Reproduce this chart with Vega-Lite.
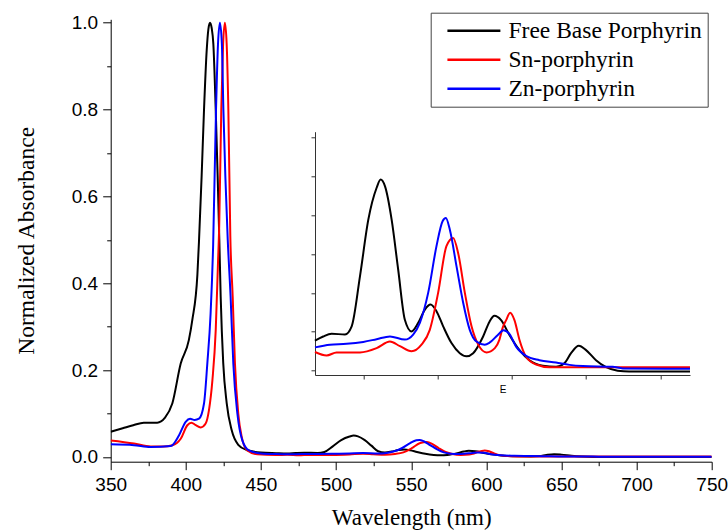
{
  "$schema": "https://vega.github.io/schema/vega-lite/v6.json",
  "width": 601,
  "height": 442.4,
  "autosize": {"type": "none"},
  "padding": {"left": 110.7, "top": 19.3, "right": 16.3, "bottom": 68.3},
  "background": "white",
  "config": {"view": {"stroke": null}, "axis": {"grid": false}},
  "datasets": {
    "spectra": [
      {"s": "Free Base Porphyrin", "w": 350, "a": 0.058},
      {"s": "Free Base Porphyrin", "w": 358, "a": 0.066},
      {"s": "Free Base Porphyrin", "w": 365, "a": 0.073},
      {"s": "Free Base Porphyrin", "w": 372, "a": 0.079},
      {"s": "Free Base Porphyrin", "w": 381, "a": 0.079},
      {"s": "Free Base Porphyrin", "w": 386, "a": 0.09},
      {"s": "Free Base Porphyrin", "w": 391, "a": 0.123},
      {"s": "Free Base Porphyrin", "w": 396.6, "a": 0.215},
      {"s": "Free Base Porphyrin", "w": 402, "a": 0.269},
      {"s": "Free Base Porphyrin", "w": 404.3, "a": 0.315},
      {"s": "Free Base Porphyrin", "w": 407.7, "a": 0.42},
      {"s": "Free Base Porphyrin", "w": 408.8, "a": 0.5},
      {"s": "Free Base Porphyrin", "w": 410.5, "a": 0.645},
      {"s": "Free Base Porphyrin", "w": 412.1, "a": 0.799},
      {"s": "Free Base Porphyrin", "w": 413.9, "a": 0.937},
      {"s": "Free Base Porphyrin", "w": 415, "a": 0.985},
      {"s": "Free Base Porphyrin", "w": 416.1, "a": 1.0},
      {"s": "Free Base Porphyrin", "w": 417.2, "a": 0.988},
      {"s": "Free Base Porphyrin", "w": 418.3, "a": 0.952},
      {"s": "Free Base Porphyrin", "w": 419.9, "a": 0.799},
      {"s": "Free Base Porphyrin", "w": 421.2, "a": 0.645},
      {"s": "Free Base Porphyrin", "w": 422.3, "a": 0.5},
      {"s": "Free Base Porphyrin", "w": 423.2, "a": 0.369},
      {"s": "Free Base Porphyrin", "w": 424.9, "a": 0.216},
      {"s": "Free Base Porphyrin", "w": 427.2, "a": 0.124},
      {"s": "Free Base Porphyrin", "w": 430.5, "a": 0.062},
      {"s": "Free Base Porphyrin", "w": 434.9, "a": 0.028},
      {"s": "Free Base Porphyrin", "w": 440.5, "a": 0.016},
      {"s": "Free Base Porphyrin", "w": 450, "a": 0.01},
      {"s": "Free Base Porphyrin", "w": 460, "a": 0.0085},
      {"s": "Free Base Porphyrin", "w": 467.5, "a": 0.0077},
      {"s": "Free Base Porphyrin", "w": 473, "a": 0.0088},
      {"s": "Free Base Porphyrin", "w": 478.7, "a": 0.0095},
      {"s": "Free Base Porphyrin", "w": 487.7, "a": 0.0093},
      {"s": "Free Base Porphyrin", "w": 492.2, "a": 0.0114},
      {"s": "Free Base Porphyrin", "w": 497.8, "a": 0.0243},
      {"s": "Free Base Porphyrin", "w": 503.4, "a": 0.0388},
      {"s": "Free Base Porphyrin", "w": 509, "a": 0.047},
      {"s": "Free Base Porphyrin", "w": 511.7, "a": 0.0491},
      {"s": "Free Base Porphyrin", "w": 514.6, "a": 0.0474},
      {"s": "Free Base Porphyrin", "w": 519.1, "a": 0.0388},
      {"s": "Free Base Porphyrin", "w": 523.5, "a": 0.026},
      {"s": "Free Base Porphyrin", "w": 528, "a": 0.0131},
      {"s": "Free Base Porphyrin", "w": 532.5, "a": 0.0101},
      {"s": "Free Base Porphyrin", "w": 537, "a": 0.0123},
      {"s": "Free Base Porphyrin", "w": 541.5, "a": 0.0157},
      {"s": "Free Base Porphyrin", "w": 545.3, "a": 0.017},
      {"s": "Free Base Porphyrin", "w": 549.3, "a": 0.0153},
      {"s": "Free Base Porphyrin", "w": 553.8, "a": 0.0114},
      {"s": "Free Base Porphyrin", "w": 559.4, "a": 0.0071},
      {"s": "Free Base Porphyrin", "w": 565, "a": 0.0045},
      {"s": "Free Base Porphyrin", "w": 569.5, "a": 0.0037},
      {"s": "Free Base Porphyrin", "w": 574, "a": 0.0045},
      {"s": "Free Base Porphyrin", "w": 580.7, "a": 0.0088},
      {"s": "Free Base Porphyrin", "w": 585, "a": 0.0126},
      {"s": "Free Base Porphyrin", "w": 588.3, "a": 0.0141},
      {"s": "Free Base Porphyrin", "w": 592.8, "a": 0.013},
      {"s": "Free Base Porphyrin", "w": 598.4, "a": 0.0092},
      {"s": "Free Base Porphyrin", "w": 605.2, "a": 0.0053},
      {"s": "Free Base Porphyrin", "w": 611.9, "a": 0.0027},
      {"s": "Free Base Porphyrin", "w": 620.9, "a": 0.0013},
      {"s": "Free Base Porphyrin", "w": 629.8, "a": 0.001},
      {"s": "Free Base Porphyrin", "w": 635.4, "a": 0.0019},
      {"s": "Free Base Porphyrin", "w": 639.9, "a": 0.0045},
      {"s": "Free Base Porphyrin", "w": 645.1, "a": 0.0064},
      {"s": "Free Base Porphyrin", "w": 650, "a": 0.0053},
      {"s": "Free Base Porphyrin", "w": 656.7, "a": 0.0027},
      {"s": "Free Base Porphyrin", "w": 663.5, "a": 0.0009},
      {"s": "Free Base Porphyrin", "w": 671.3, "a": 0.0},
      {"s": "Free Base Porphyrin", "w": 679, "a": -0.0002},
      {"s": "Free Base Porphyrin", "w": 700, "a": -0.0002},
      {"s": "Free Base Porphyrin", "w": 720, "a": -0.0002},
      {"s": "Free Base Porphyrin", "w": 750, "a": -0.0001},

      {"s": "Sn-porphyrin", "w": 350, "a": 0.038},
      {"s": "Sn-porphyrin", "w": 365.5, "a": 0.031},
      {"s": "Sn-porphyrin", "w": 376.6, "a": 0.024},
      {"s": "Sn-porphyrin", "w": 385, "a": 0.024},
      {"s": "Sn-porphyrin", "w": 391, "a": 0.027},
      {"s": "Sn-porphyrin", "w": 396.6, "a": 0.042},
      {"s": "Sn-porphyrin", "w": 401, "a": 0.073},
      {"s": "Sn-porphyrin", "w": 403.7, "a": 0.079},
      {"s": "Sn-porphyrin", "w": 406.6, "a": 0.073},
      {"s": "Sn-porphyrin", "w": 409.9, "a": 0.068},
      {"s": "Sn-porphyrin", "w": 413.2, "a": 0.077},
      {"s": "Sn-porphyrin", "w": 415.4, "a": 0.108},
      {"s": "Sn-porphyrin", "w": 417.7, "a": 0.177},
      {"s": "Sn-porphyrin", "w": 419.9, "a": 0.292},
      {"s": "Sn-porphyrin", "w": 421.4, "a": 0.446},
      {"s": "Sn-porphyrin", "w": 422.2, "a": 0.53},
      {"s": "Sn-porphyrin", "w": 423.6, "a": 0.8},
      {"s": "Sn-porphyrin", "w": 424.8, "a": 0.95},
      {"s": "Sn-porphyrin", "w": 426, "a": 1.0},
      {"s": "Sn-porphyrin", "w": 427.2, "a": 0.95},
      {"s": "Sn-porphyrin", "w": 428.3, "a": 0.8},
      {"s": "Sn-porphyrin", "w": 429.6, "a": 0.51},
      {"s": "Sn-porphyrin", "w": 431.2, "a": 0.369},
      {"s": "Sn-porphyrin", "w": 432.7, "a": 0.215},
      {"s": "Sn-porphyrin", "w": 434.9, "a": 0.1},
      {"s": "Sn-porphyrin", "w": 437.2, "a": 0.046},
      {"s": "Sn-porphyrin", "w": 440.9, "a": 0.015},
      {"s": "Sn-porphyrin", "w": 447.6, "a": 0.006},
      {"s": "Sn-porphyrin", "w": 460, "a": 0.0045},
      {"s": "Sn-porphyrin", "w": 467.5, "a": 0.0048},
      {"s": "Sn-porphyrin", "w": 475.3, "a": 0.0039},
      {"s": "Sn-porphyrin", "w": 482, "a": 0.0047},
      {"s": "Sn-porphyrin", "w": 497.8, "a": 0.0047},
      {"s": "Sn-porphyrin", "w": 509, "a": 0.0058},
      {"s": "Sn-porphyrin", "w": 518, "a": 0.0075},
      {"s": "Sn-porphyrin", "w": 524.7, "a": 0.0063},
      {"s": "Sn-porphyrin", "w": 532.5, "a": 0.005},
      {"s": "Sn-porphyrin", "w": 539.2, "a": 0.0067},
      {"s": "Sn-porphyrin", "w": 544.8, "a": 0.0105},
      {"s": "Sn-porphyrin", "w": 550.4, "a": 0.02},
      {"s": "Sn-porphyrin", "w": 556, "a": 0.032},
      {"s": "Sn-porphyrin", "w": 560.5, "a": 0.0341},
      {"s": "Sn-porphyrin", "w": 563.9, "a": 0.0302},
      {"s": "Sn-porphyrin", "w": 568.4, "a": 0.02},
      {"s": "Sn-porphyrin", "w": 572.9, "a": 0.0114},
      {"s": "Sn-porphyrin", "w": 577.4, "a": 0.0067},
      {"s": "Sn-porphyrin", "w": 583, "a": 0.0047},
      {"s": "Sn-porphyrin", "w": 588.6, "a": 0.0058},
      {"s": "Sn-porphyrin", "w": 591.7, "a": 0.008},
      {"s": "Sn-porphyrin", "w": 594, "a": 0.0112},
      {"s": "Sn-porphyrin", "w": 596.2, "a": 0.013},
      {"s": "Sn-porphyrin", "w": 598.9, "a": 0.0149},
      {"s": "Sn-porphyrin", "w": 601.8, "a": 0.013},
      {"s": "Sn-porphyrin", "w": 605.2, "a": 0.0079},
      {"s": "Sn-porphyrin", "w": 609.6, "a": 0.0036},
      {"s": "Sn-porphyrin", "w": 616.4, "a": 0.0016},
      {"s": "Sn-porphyrin", "w": 625.3, "a": 0.0009},
      {"s": "Sn-porphyrin", "w": 680, "a": 0.0009},
      {"s": "Sn-porphyrin", "w": 720, "a": 0.0009},
      {"s": "Sn-porphyrin", "w": 750, "a": 0.0009},

      {"s": "Zn-porphyrin", "w": 350, "a": 0.029},
      {"s": "Zn-porphyrin", "w": 365.5, "a": 0.027},
      {"s": "Zn-porphyrin", "w": 376.6, "a": 0.023},
      {"s": "Zn-porphyrin", "w": 390, "a": 0.025},
      {"s": "Zn-porphyrin", "w": 395.5, "a": 0.05},
      {"s": "Zn-porphyrin", "w": 399.9, "a": 0.081},
      {"s": "Zn-porphyrin", "w": 402.8, "a": 0.088},
      {"s": "Zn-porphyrin", "w": 405.9, "a": 0.085},
      {"s": "Zn-porphyrin", "w": 408.8, "a": 0.088},
      {"s": "Zn-porphyrin", "w": 412.1, "a": 0.123},
      {"s": "Zn-porphyrin", "w": 414.3, "a": 0.215},
      {"s": "Zn-porphyrin", "w": 416.5, "a": 0.331},
      {"s": "Zn-porphyrin", "w": 418.2, "a": 0.49},
      {"s": "Zn-porphyrin", "w": 420.1, "a": 0.8},
      {"s": "Zn-porphyrin", "w": 421.4, "a": 0.95},
      {"s": "Zn-porphyrin", "w": 422.7, "a": 1.0},
      {"s": "Zn-porphyrin", "w": 424, "a": 0.95},
      {"s": "Zn-porphyrin", "w": 425, "a": 0.8},
      {"s": "Zn-porphyrin", "w": 427.9, "a": 0.5},
      {"s": "Zn-porphyrin", "w": 429.8, "a": 0.369},
      {"s": "Zn-porphyrin", "w": 431.6, "a": 0.215},
      {"s": "Zn-porphyrin", "w": 434.3, "a": 0.1},
      {"s": "Zn-porphyrin", "w": 437.6, "a": 0.038},
      {"s": "Zn-porphyrin", "w": 442, "a": 0.015},
      {"s": "Zn-porphyrin", "w": 450, "a": 0.008},
      {"s": "Zn-porphyrin", "w": 460, "a": 0.0065},
      {"s": "Zn-porphyrin", "w": 467.5, "a": 0.006},
      {"s": "Zn-porphyrin", "w": 477.6, "a": 0.0067},
      {"s": "Zn-porphyrin", "w": 488.8, "a": 0.0069},
      {"s": "Zn-porphyrin", "w": 500, "a": 0.0074},
      {"s": "Zn-porphyrin", "w": 509, "a": 0.0081},
      {"s": "Zn-porphyrin", "w": 518, "a": 0.0088},
      {"s": "Zn-porphyrin", "w": 528, "a": 0.008},
      {"s": "Zn-porphyrin", "w": 533.6, "a": 0.0093},
      {"s": "Zn-porphyrin", "w": 538.1, "a": 0.0123},
      {"s": "Zn-porphyrin", "w": 543.7, "a": 0.02},
      {"s": "Zn-porphyrin", "w": 549.3, "a": 0.032},
      {"s": "Zn-porphyrin", "w": 553.4, "a": 0.0384},
      {"s": "Zn-porphyrin", "w": 555.6, "a": 0.0392},
      {"s": "Zn-porphyrin", "w": 558.3, "a": 0.0362},
      {"s": "Zn-porphyrin", "w": 562.8, "a": 0.0268},
      {"s": "Zn-porphyrin", "w": 567.3, "a": 0.0174},
      {"s": "Zn-porphyrin", "w": 571.7, "a": 0.0105},
      {"s": "Zn-porphyrin", "w": 576.2, "a": 0.0075},
      {"s": "Zn-porphyrin", "w": 581.8, "a": 0.0067},
      {"s": "Zn-porphyrin", "w": 585, "a": 0.0072},
      {"s": "Zn-porphyrin", "w": 590.6, "a": 0.0092},
      {"s": "Zn-porphyrin", "w": 594.4, "a": 0.0104},
      {"s": "Zn-porphyrin", "w": 598.5, "a": 0.0094},
      {"s": "Zn-porphyrin", "w": 602.9, "a": 0.0062},
      {"s": "Zn-porphyrin", "w": 609.6, "a": 0.0038},
      {"s": "Zn-porphyrin", "w": 618.6, "a": 0.0027},
      {"s": "Zn-porphyrin", "w": 629.8, "a": 0.0021},
      {"s": "Zn-porphyrin", "w": 638.8, "a": 0.0015},
      {"s": "Zn-porphyrin", "w": 647.8, "a": 0.0012},
      {"s": "Zn-porphyrin", "w": 667.9, "a": 0.001},
      {"s": "Zn-porphyrin", "w": 674.7, "a": 0.0006},
      {"s": "Zn-porphyrin", "w": 720, "a": 0.0005},
      {"s": "Zn-porphyrin", "w": 750, "a": 0.0004}
    ]
  },
  "layer": [
    {
      "data": {"name": "spectra"},
      "mark": {"type": "line", "strokeWidth": 2, "interpolate": "monotone", "clip": true},
      "encoding": {
        "x": {
          "field": "w", "type": "quantitative",
          "scale": {"domain": [350, 750], "nice": false, "zero": false},
          "axis": {
            "values": [350, 375, 400, 425, 450, 475, 500, 525, 550, 575, 600, 625, 650, 675, 700, 725, 750],
            "format": "d",
            "labelExpr": "datum.value % 50 === 0 ? datum.label : ''",
            "tickSize": {"condition": {"test": "datum.value % 50 === 0", "value": 8}, "value": 4},
            "tickColor": "black", "domainColor": "black", "tickWidth": 1, "domainWidth": 1,
            "labelFont": "Liberation Sans", "labelFontSize": 19, "labelColor": "black",
            "labelPadding": 6, "labelFlush": false, "labelOverlap": false,
            "title": "Wavelength (nm)", "titleFont": "Liberation Serif", "titleFontSize": 23,
            "titleFontWeight": "normal", "titleColor": "black",
            "titleBaseline": "alphabetic", "titleY": 62.3
          }
        },
        "y": {
          "field": "a", "type": "quantitative",
          "scale": {"domain": [-0.011, 1.008], "nice": false, "zero": false},
          "axis": {
            "values": [0, 0.1, 0.2, 0.3, 0.4, 0.5, 0.6, 0.7, 0.8, 0.9, 1.0],
            "format": ".1f",
            "labelExpr": "round(datum.value * 10) % 2 === 0 ? datum.label : ''",
            "tickSize": {"condition": {"test": "round(datum.value * 10) % 2 === 0", "value": 8}, "value": 4},
            "tickColor": "black", "domainColor": "black", "tickWidth": 1, "domainWidth": 1,
            "labelFont": "Liberation Sans", "labelFontSize": 19, "labelColor": "black",
            "labelPadding": 5, "labelFlush": false, "labelOverlap": false,
            "title": "Normalized Absorbance", "titleFont": "Liberation Serif", "titleFontSize": 23.5,
            "titleFontWeight": "normal", "titleColor": "black",
            "titleAngle": 270, "titleBaseline": "alphabetic", "titleX": -77.4, "titleY": 221
          }
        },
        "color": {
          "field": "s", "type": "nominal",
          "scale": {"domain": ["Free Base Porphyrin", "Sn-porphyrin", "Zn-porphyrin"], "range": ["#000000", "#ff0000", "#0000ff"]},
          "legend": {
            "orient": "none", "legendX": 320, "legendY": -6.6, "title": null,
            "strokeColor": "#444", "fillColor": "white", "padding": 6,
            "symbolType": "M-2.5,0H2.5", "symbolSize": 449, "symbolStrokeWidth": 2.5,
            "symbolOffset": 25.2,
            "labelFont": "Liberation Serif", "labelFontSize": 23.5, "labelColor": "black",
            "labelOffset": 22.6, "labelLimit": 0, "rowPadding": 5
          }
        }
      }
    },
    {
      "data": {"name": "spectra"},
      "transform": [{"filter": "datum.w >= 467 && datum.w <= 720"}],
      "mark": {"type": "line", "strokeWidth": 2, "interpolate": "monotone"},
      "encoding": {
        "x": {
          "field": "w", "type": "quantitative",
          "scale": {"domain": [467.5, 720], "range": [204.3, 579.3], "nice": false, "zero": false},
          "axis": {
            "orient": "bottom", "offset": -86.7,
            "values": [500, 550, 600, 650, 700], "labels": false,
            "tickSize": 4, "tickColor": "#333", "domainColor": "#333",
            "title": "E", "titleFont": "Liberation Sans", "titleFontSize": 10,
            "titleFontWeight": "normal", "titleColor": "black", "titlePadding": 5
          }
        },
        "y": {
          "field": "a", "type": "quantitative",
          "scale": {"domain": [-0.0011, 0.0614], "range": [355.7, 112.4], "nice": false, "zero": false},
          "axis": {
            "orient": "left", "offset": -204.3,
            "values": [0, 0.01, 0.02, 0.03, 0.04, 0.05, 0.06], "labels": false,
            "tickSize": 4, "tickColor": "#333", "domainColor": "#333",
            "title": null
          }
        },
        "color": {
          "field": "s", "type": "nominal"
        }
      }
    }
  ],
  "resolve": {
    "scale": {"x": "independent", "y": "independent"},
    "axis": {"x": "independent", "y": "independent"}
  }
}
